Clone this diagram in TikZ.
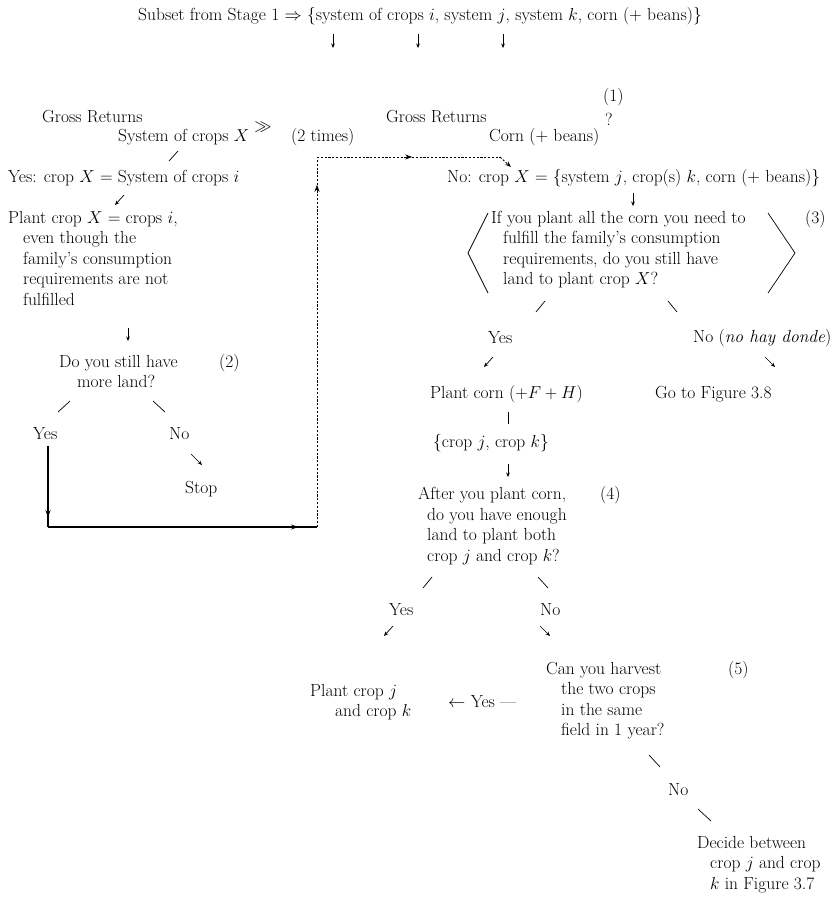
\documentclass[tikz,border=0pt]{standalone}
\usepackage{fontspec}
\usetikzlibrary{arrows.meta,decorations.markings}
\begin{document}
\begin{tikzpicture}[x=1pt,y=-1pt,
  every node/.style={font=\fontsize{17.5}{20.5}\selectfont, inner sep=0pt},
  txt/.style={anchor=west},
  blk/.style={anchor=north west, align=left},
  tick/.style={line width=0.7pt},
  arr/.style={line width=0.7pt, -{Stealth[length=4.5pt,width=3.8pt]}},
  flow/.style={line width=1.1pt},
  dashflow/.style={line width=0.9pt, dash pattern=on 2.2pt off 1.6pt},
  midarr/.style={postaction={decorate}, decoration={markings,
      mark=at position #1 with {\arrow{Stealth[length=7pt,width=5pt]}}}},
]
\useasboundingbox (0,0) rectangle (833,897);

% ---- header ----
\node (title) at (420,16) {Subset from Stage 1 $\Rightarrow$ \{system of crops $i$, system $j$, system $k$, corn (+ beans)\}};
\coordinate (d1) at (333,34); \coordinate (d2) at (418,34); \coordinate (d3) at (503,34);
\foreach \c in {d1,d2,d3} \draw[arr] (\c) -- ++(0,14);

\node[txt] (one) at (603,97) {(1)};
\node[txt] (grL) at (42,117) {Gross Returns};
\node[txt] (sysX) at (118,137) {System of crops $X$};
\node (gg) at (263,127) {$\gg$};
\node[txt] (twice) at (291,137) {(2 times)};
\node[txt] (grM) at (386,117) {Gross Returns};
\node (qm) at (609,119) {?};
\node[txt] (corn) at (489,137) {Corn (+ beans)};
\coordinate (s0) at (178,151); \draw[tick] (s0) -- ++(-9,10);

\node[txt] (yesX) at (8,178) {Yes: crop $X$ = System of crops $i$};
\node[txt] (noX) at (447,178) {No: crop $X$ = \{system $j$, crop(s) $k$, corn (+ beans)\}};
\coordinate (a1) at (124,195); \draw[arr] (a1) -- ++(-9,10);
\coordinate (a2) at (633,193); \draw[arr] (a2) -- ++(0,13);

% ---- left branch ----
\node[blk] (plantX) at (8,211) {Plant crop $X$ = crops $i$,\\
  \hspace*{15pt}even though the\\
  \hspace*{15pt}family's consumption\\
  \hspace*{15pt}requirements are not\\
  \hspace*{15pt}fulfilled};
\coordinate (a3) at (128,328); \draw[arr] (a3) -- ++(0,13);
\node[blk] (more) at (59,355) {Do you still have\\ \hspace*{18pt}more land?};
\node[txt] (two) at (219,363) {(2)};
\coordinate (s1) at (70,401); \draw[tick] (s1) -- ++(-12,11);
\coordinate (s2) at (153,401); \draw[tick] (s2) -- ++(12,11);
\node[txt] (yesL) at (33,434) {Yes};
\node[txt] (noL) at (169,434) {No};
\coordinate (a4) at (191,454); \draw[arr] (a4) -- ++(11,11);
\node[txt] (stop) at (185,489) {Stop};

% ---- loop back from "Yes" ----
\coordinate (loopA) at (48,446);
\coordinate (loopB) at (48,527);
\coordinate (loopC) at (317,527);
\coordinate (dashTop) at (317,157);
\coordinate (dashRight) at (500,157);
\coordinate (dashEnd) at (511,167);
\draw[flow, midarr=0.88] (loopA) -- (loopB);
\draw[flow, midarr=0.93] (loopB) -- (loopC);
\draw[dashflow, midarr=0.925] (loopC) -- (dashTop);
\draw[dashflow, midarr=0.52] (dashTop) -- (dashRight);
\draw[dashflow, -{Stealth[length=6pt,width=4.5pt]}] (dashRight) -- (dashEnd);

% ---- right branch ----
\node[blk] (land) at (491,211) {If you plant all the corn you need to\\
  \hspace*{12pt}fulfill the family's consumption\\
  \hspace*{12pt}requirements, do you still have\\
  \hspace*{12pt}land to plant crop $X$?};
\coordinate (bl) at (488,213); \draw[tick] (bl) -- ++(-20,40) -- ++(20,40);
\coordinate (br) at (768,213); \draw[tick] (br) -- ++(27,40) -- ++(-27,40);
\node[txt] (three) at (805,219) {(3)};
\coordinate (s3) at (545,301); \draw[tick] (s3) -- ++(-9,11);
\coordinate (s4) at (668,301); \draw[tick] (s4) -- ++(9,11);
\node[txt] (yesR) at (488,338) {Yes};
\node[txt] (noR) at (693,338) {No (\textit{no hay donde})};
\coordinate (a5) at (493,357); \draw[arr] (a5) -- ++(-9,10);
\coordinate (a6) at (765,357); \draw[arr] (a6) -- ++(10,10);
\node[txt] (corn2) at (430,394) {Plant corn ($+F+H$)};
\node[txt] (fig38) at (655,394) {Go to Figure 3.8};
\coordinate (s5) at (508,412); \draw[tick] (s5) -- ++(0,12);
\node[txt] (jk) at (433,443) {\{crop $j$, crop $k$\}};
\coordinate (a7) at (508,464); \draw[arr] (a7) -- ++(0,13);

\node[blk] (both) at (418,487) {After you plant corn,\\
  \hspace*{9pt}do you have enough\\
  \hspace*{9pt}land to plant both\\
  \hspace*{9pt}crop $j$ and crop $k$?};
\node[txt] (four) at (600,495) {(4)};
\coordinate (s6) at (432,577); \draw[tick] (s6) -- ++(-9,11);
\coordinate (s7) at (538,577); \draw[tick] (s7) -- ++(10,11);
\node[txt] (yes4) at (389,610) {Yes};
\node[txt] (no4) at (540,610) {No};
\coordinate (a8) at (393,626); \draw[arr] (a8) -- ++(-9,10);
\coordinate (a9) at (540,626); \draw[arr] (a9) -- ++(10,10);

\node[blk] (harvest) at (546,662) {Can you harvest\\
  \hspace*{15pt}the two crops\\
  \hspace*{15pt}in the same\\
  \hspace*{15pt}field in 1 year?};
\node[txt] (five) at (728,670) {(5)};
\node[blk] (plantjk) at (310,684) {Plant crop $j$\\ \hspace*{25pt}and crop $k$};
\node[txt] (yes5) at (448,702) {$\leftarrow$ Yes ---};
\coordinate (s8) at (649,755); \draw[tick] (s8) -- ++(11,12);
\node[txt] (no5) at (668,790) {No};
\coordinate (s9) at (698,809); \draw[tick] (s9) -- ++(13,12);
\node[blk] (decide) at (697,836) {Decide between\\
  \hspace*{13pt}crop $j$ and crop\\
  \hspace*{13pt}$k$ in Figure 3.7};
\end{tikzpicture}
\end{document}
